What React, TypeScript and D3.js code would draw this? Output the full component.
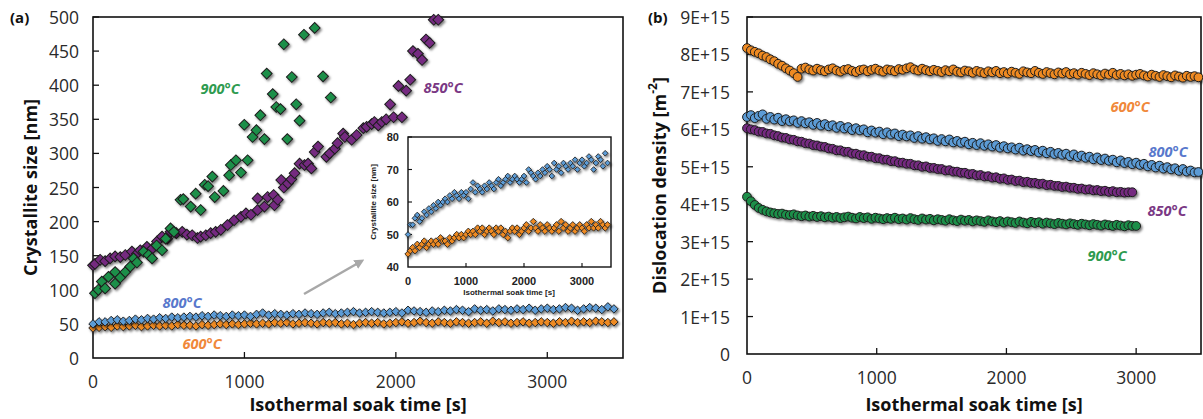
import React from 'react';
import * as d3 from 'd3';

// ---------- Panel (a): crystallite size [nm] ----------
const A_X_TICKS = [0, 1000, 2000, 3000];
const A_Y_TICKS = [0, 50, 100, 150, 200, 250, 300, 350, 400, 450, 500];

const T900_A = [13, 35, 58, 80, 102, 146, 146, 180, 213, 246, 268, 290, 334, 367, 390, 420, 456, 480, 512, 534, 578, 596, 645, 678, 711, 738, 760, 788, 804, 861, 899, 910, 944, 977, 999, 1021, 1054, 1079, 1105, 1132, 1147, 1187, 1210, 1238, 1260, 1283, 1313, 1342, 1364, 1393, 1464, 1519, 1570];
const V900_A = [95, 100, 112, 102, 119, 109, 126, 118, 126, 134, 146, 140, 156, 151, 146, 165, 158, 175, 190, 185, 232, 233, 222, 241, 217, 254, 252, 266, 236, 245, 268, 283, 290, 272, 342, 290, 324, 334, 356, 321, 417, 387, 368, 365, 460, 321, 412, 372, 348, 474, 484, 413, 382];

const T850_A = [0, 13, 47, 80, 113, 146, 180, 213, 257, 290, 312, 356, 390, 423, 456, 490, 512, 550, 589, 620, 655, 690, 711, 745, 777, 810, 844, 888, 932, 977, 1010, 1043, 1087, 1087, 1132, 1153, 1193, 1198, 1220, 1243, 1260, 1287, 1310, 1331, 1364, 1397, 1420, 1442, 1464, 1486, 1541, 1563, 1597, 1615, 1652, 1663, 1708, 1741, 1785, 1807, 1840, 1858, 1884, 1907, 1936, 1962, 1985, 2017, 2040, 2068, 2095, 2113, 2146, 2173, 2199, 2223, 2250, 2280];
const V850_A = [136, 138, 144, 142, 146, 149, 148, 151, 156, 153, 158, 163, 160, 171, 178, 175, 185, 183, 185, 181, 180, 176, 178, 180, 183, 185, 188, 195, 202, 207, 212, 210, 217, 234, 222, 236, 239, 224, 232, 261, 250, 256, 262, 271, 285, 283, 285, 278, 302, 310, 295, 300, 307, 315, 329, 324, 320, 327, 337, 339, 343, 346, 341, 346, 350, 372, 353, 399, 353, 392, 408, 450, 446, 437, 467, 462, 496, 496];

const A_STEP = 40; // s between 600/800 °C measurements
const V800_A = [50, 53, 53, 55, 56, 54, 55, 57, 56, 58, 57, 59, 58, 60, 59, 60, 61, 60, 62, 61, 63, 62, 61, 63, 62, 63, 61, 64, 66, 63, 65, 64, 63, 65, 64, 66, 65, 64, 66, 67, 65, 66, 67, 68, 66, 67, 68, 67, 66, 67, 68, 66, 70, 69, 68, 67, 69, 68, 70, 69, 71, 70, 68, 72, 70, 71, 69, 72, 71, 70, 72, 71, 73, 70, 72, 73, 71, 72, 74, 73, 70, 72, 74, 73, 71, 75, 72];
const V600_A = [44, 45, 46, 45, 47, 46, 47, 48, 46, 47, 48, 47, 48, 47, 49, 48, 48, 47, 49, 48, 49, 50, 49, 50, 49, 50, 51, 50, 51, 50, 52, 51, 52, 50, 51, 52, 51, 50, 52, 51, 52, 50, 51, 49, 51, 52, 51, 52, 50, 51, 52, 53, 51, 52, 54, 52, 51, 53, 52, 51, 53, 52, 51, 52, 53, 51, 54, 52, 53, 51, 52, 53, 51, 52, 53, 52, 51, 53, 52, 54, 52, 53, 52, 54, 53, 52, 53];

const INSET_X_TICKS = [0, 1000, 2000, 3000];
const INSET_Y_TICKS = [40, 50, 60, 70, 80];

// ---------- Panel (b): dislocation density [x1E+15 m^-2] ----------
const B_STEP = 30;
const B_X_TICKS = [0, 1000, 2000, 3000];
const B_Y_TICKS = [0, 1, 2, 3, 4, 5, 6, 7, 8, 9];
const B_Y_LABELS = ['0', '1E+15', '2E+15', '3E+15', '4E+15', '5E+15', '6E+15', '7E+15', '8E+15', '9E+15'];

const D600 = [8.17, 8.11, 8.07, 8.03, 7.97, 7.93, 7.87, 7.82, 7.75, 7.70, 7.63, 7.57, 7.50, 7.40,
  7.62, 7.65, 7.60, 7.57, 7.62, 7.58, 7.55, 7.60, 7.63, 7.57, 7.54, 7.59, 7.61, 7.56, 7.53, 7.58, 7.60, 7.55, 7.59, 7.62, 7.57, 7.54, 7.60, 7.58, 7.55, 7.61, 7.59,
  7.63, 7.66, 7.60, 7.57, 7.62, 7.58, 7.55, 7.59, 7.56, 7.53, 7.58, 7.55, 7.60, 7.54, 7.52, 7.57, 7.55, 7.51, 7.56, 7.53,
  7.50, 7.55, 7.52, 7.56, 7.50, 7.53, 7.49, 7.54, 7.51, 7.48, 7.55, 7.52, 7.50, 7.56, 7.51, 7.48, 7.53, 7.50, 7.47, 7.52,
  7.49, 7.53, 7.47, 7.50, 7.46, 7.51, 7.48, 7.45, 7.50, 7.47, 7.44, 7.49, 7.46, 7.51, 7.45, 7.48, 7.44, 7.47, 7.43, 7.46,
  7.48, 7.44, 7.41, 7.46, 7.43, 7.40, 7.45, 7.42, 7.39, 7.44, 7.41, 7.38, 7.43, 7.40, 7.42, 7.39];
const D800 = [6.33, 6.38, 6.30, 6.36, 6.40, 6.28, 6.33, 6.26, 6.31, 6.22, 6.27, 6.21, 6.24, 6.17, 6.22, 6.16, 6.19, 6.12, 6.17, 6.10,
  6.14, 6.08, 6.11, 6.04, 6.09, 6.02, 6.06, 5.98, 6.03, 5.97, 6.00, 5.92, 5.97, 5.91, 5.94, 5.87, 5.92, 5.86, 5.89, 5.82,
  5.86, 5.81, 5.84, 5.77, 5.82, 5.75, 5.79, 5.73, 5.76, 5.69, 5.74, 5.68, 5.73, 5.65, 5.69, 5.64, 5.67, 5.60, 5.64, 5.58,
  5.63, 5.56, 5.60, 5.54, 5.58, 5.51, 5.55, 5.49, 5.52, 5.46, 5.51, 5.43, 5.47, 5.42, 5.45, 5.38, 5.43, 5.36, 5.40, 5.34,
  5.37, 5.32, 5.35, 5.28, 5.33, 5.26, 5.30, 5.24, 5.27, 5.20, 5.25, 5.18, 5.22, 5.16, 5.19, 5.12, 5.17, 5.10, 5.13, 5.07,
  5.11, 5.05, 5.08, 5.01, 5.05, 4.98, 5.03, 4.95, 4.99, 4.93, 4.96, 4.89, 4.94, 4.87, 4.90, 4.85, 4.86];
const D850 = [6.03, 6.00, 5.98, 5.94, 5.93, 5.89, 5.88, 5.84, 5.82, 5.78, 5.77, 5.73, 5.72, 5.68, 5.67, 5.63, 5.62, 5.58, 5.57, 5.54,
  5.53, 5.49, 5.48, 5.44, 5.44, 5.40, 5.40, 5.35, 5.35, 5.31, 5.31, 5.27, 5.27, 5.23, 5.23, 5.19, 5.19, 5.15, 5.15, 5.11,
  5.11, 5.08, 5.08, 5.04, 5.04, 5.00, 5.01, 4.97, 4.97, 4.94, 4.94, 4.90, 4.91, 4.87, 4.87, 4.84, 4.84, 4.80, 4.81, 4.77,
  4.78, 4.74, 4.75, 4.71, 4.72, 4.68, 4.69, 4.65, 4.66, 4.62, 4.63, 4.59, 4.60, 4.57, 4.57, 4.54, 4.55, 4.51, 4.52, 4.49,
  4.49, 4.46, 4.47, 4.44, 4.44, 4.41, 4.42, 4.39, 4.40, 4.37, 4.38, 4.35, 4.36, 4.33, 4.35, 4.32, 4.33, 4.31, 4.32, 4.32];
const D900 = [4.20, 4.08, 3.98, 3.90, 3.85, 3.81, 3.78, 3.76, 3.74, 3.75, 3.72, 3.71, 3.73, 3.70, 3.68, 3.70, 3.67, 3.69, 3.66, 3.68,
  3.65, 3.67, 3.64, 3.66, 3.63, 3.65, 3.67, 3.64, 3.62, 3.66, 3.63, 3.65, 3.61, 3.64, 3.62, 3.60, 3.63, 3.61, 3.64, 3.60,
  3.62, 3.59, 3.63, 3.60, 3.58, 3.62, 3.59, 3.61, 3.57, 3.60, 3.58, 3.56, 3.60, 3.57, 3.55, 3.59, 3.56, 3.58, 3.54, 3.57,
  3.55, 3.53, 3.57, 3.54, 3.52, 3.55, 3.51, 3.54, 3.52, 3.50, 3.54, 3.51, 3.49, 3.53, 3.50, 3.52, 3.48, 3.51, 3.49, 3.47,
  3.50, 3.48, 3.46, 3.49, 3.47, 3.45, 3.48, 3.46, 3.44, 3.47, 3.45, 3.43, 3.46, 3.44, 3.42, 3.45, 3.43, 3.41, 3.44, 3.42, 3.42];

const C = {
  green: '#1f8f4a', purple: '#742c80', blue: '#5b9bd5', orange: '#ee8a24',
  tGreen: '#2e9b50', tPurple: '#7a3884', tBlue: '#5878cc', tOrange: '#f0883a',
  edge: '#1c1c1c',
};
const FONT = "'Open Sans', 'DejaVu Sans', sans-serif";
const INSET_FONT = "'Liberation Sans', Arial, sans-serif";

type Pt = { t: number; v: number };
const zip = (ts: number[], vs: number[]): Pt[] => vs.map((v, i) => ({ t: ts[i], v }));
const grid = (vs: number[], step: number): Pt[] => vs.map((v, i) => ({ t: i * step, v }));

const diamond = (area: number) => d3.symbol().type(d3.symbolSquare).size(area)() as string;

function Diamonds({ data, x, y, fill, area, sw = 1 }: any) {
  const p = diamond(area);
  return (
    <g filter="url(#shadow)">
      {data.map((d: Pt, i: number) => (
        <path key={i} d={p} transform={`translate(${x(d.t)},${y(d.v)}) rotate(45)`} fill={fill} stroke={C.edge} strokeWidth={sw} />
      ))}
    </g>
  );
}

function Circles({ data, x, y, fill, r }: any) {
  return (
    <g filter="url(#shadow)">
      {data.map((d: Pt, i: number) => (
        <circle key={i} cx={x(d.t)} cy={y(d.v)} r={r} fill={fill} stroke={C.edge} strokeWidth={1} />
      ))}
    </g>
  );
}

function Frame({ x, y, xTicks, yTicks, tickLen, sw }: any) {
  const [x0, x1] = x.range();
  const [y0, y1] = y.range();
  return (
    <g>
      <rect x={x0} y={y1} width={x1 - x0} height={y0 - y1} fill="none" stroke="#111" strokeWidth={sw} />
      {xTicks.filter((t: number) => t > 0).map((t: number) => (
        <line key={'x' + t} x1={x(t)} x2={x(t)} y1={y0} y2={y0 - tickLen} stroke="#111" strokeWidth={sw * 0.8} />
      ))}
      {yTicks.filter((t: number) => t > y.domain()[0]).map((t: number) => (
        <line key={'y' + t} x1={x0} x2={x0 + tickLen} y1={y(t)} y2={y(t)} stroke="#111" strokeWidth={sw * 0.8} />
      ))}
    </g>
  );
}

export default function App() {
  // panel (a)
  const ax = d3.scaleLinear().domain([0, 3500]).range([93, 623]);
  const ay = d3.scaleLinear().domain([0, 500]).range([358, 17]);
  // inset
  const ix = d3.scaleLinear().domain([0, 3500]).range([408, 611]);
  const iy = d3.scaleLinear().domain([40, 80]).range([267, 137]);
  // panel (b)
  const bx = d3.scaleLinear().domain([0, 3500]).range([747, 1201]);
  const by = d3.scaleLinear().domain([0, 9]).range([354, 17]);

  const s900 = zip(T900_A, V900_A);
  const s850 = zip(T850_A, V850_A);
  const s800 = grid(V800_A, A_STEP);
  const s600 = grid(V600_A, A_STEP);

  const tick = { fontFamily: FONT, fontSize: 17.5, fill: '#2a2a2a' };
  const title = { fontFamily: FONT, fontSize: 18, fontWeight: 700, fill: '#111' };
  const temp = { fontFamily: FONT, fontSize: 14.5, fontWeight: 700, fontStyle: 'italic' as const };
  const inTick = { fontFamily: INSET_FONT, fontSize: 11, fontWeight: 700, fill: '#222' };

  return (
    <svg width={1203} height={419} style={{ position: 'absolute', left: 0, top: 0, background: '#fff' }}>
      <defs>
        <filter id="shadow" x="-10%" y="-10%" width="130%" height="130%">
          <feDropShadow dx="1.5" dy="1.8" stdDeviation="1.3" floodColor="#000" floodOpacity="0.5" />
        </filter>
        <marker id="arrow" viewBox="0 0 10 10" refX="5" refY="5" markerWidth="4" markerHeight="4" orient="auto">
          <path d="M0,0L10,5L0,10Z" fill="#a8a8a8" />
        </marker>
      </defs>
      <rect width={1203} height={419} fill="#fff" />

      {/* ===== Panel (a) ===== */}
      <Frame x={ax} y={ay} xTicks={A_X_TICKS} yTicks={A_Y_TICKS} tickLen={6} sw={1.6} />
      {A_Y_TICKS.map((t) => (
        <text key={t} x={79} y={ay(t)} textAnchor="end" dominantBaseline="central" {...tick}>{t}</text>
      ))}
      {A_X_TICKS.map((t) => (
        <text key={t} x={ax(t)} y={388} textAnchor="middle" {...tick}>{t}</text>
      ))}
      <text x={(93 + 623) / 2} y={411} textAnchor="middle" {...title}>Isothermal soak time [s]</text>
      <text transform={`translate(30,${(17 + 358) / 2}) rotate(-90)`} textAnchor="middle" dominantBaseline="central" {...title}>Crystallite size [nm]</text>
      <text x={10} y={23} fontFamily={FONT} fontSize={15} fontWeight={700} fill="#111">(a)</text>

      <Diamonds data={s600} x={ax} y={ay} fill={C.orange} area={36} sw={0.9} />
      <Diamonds data={s800} x={ax} y={ay} fill={C.blue} area={36} sw={0.9} />
      <Diamonds data={s850} x={ax} y={ay} fill={C.purple} area={58} />
      <Diamonds data={s900} x={ax} y={ay} fill={C.green} area={58} />

      <text x={220} y={88} textAnchor="middle" dominantBaseline="central" fill={C.tGreen} {...temp}>900°C</text>
      <text x={443} y={87} textAnchor="middle" dominantBaseline="central" fill={C.tPurple} {...temp}>850°C</text>
      <text x={182} y={302} textAnchor="middle" dominantBaseline="central" fill={C.tBlue} {...temp}>800°C</text>
      <text x={202} y={343} textAnchor="middle" dominantBaseline="central" fill={C.tOrange} {...temp}>600°C</text>

      {/* arrow to inset */}
      <line x1={304} y1={294} x2={360} y2={262} stroke="#a8a8a8" strokeWidth={2.5} markerEnd="url(#arrow)" />

      {/* inset */}
      <rect x={408} y={137} width={203} height={130} fill="#fff" />
      <Frame x={ix} y={iy} xTicks={INSET_X_TICKS} yTicks={INSET_Y_TICKS} tickLen={4} sw={1.4} />
      <Diamonds data={s600} x={ix} y={iy} fill={C.orange} area={20} sw={0.8} />
      <Diamonds data={s800} x={ix} y={iy} fill={C.blue} area={16} sw={0.8} />
      {INSET_Y_TICKS.map((t) => (
        <text key={t} x={399} y={iy(t)} textAnchor="end" dominantBaseline="central" {...inTick}>{t}</text>
      ))}
      {INSET_X_TICKS.map((t) => (
        <text key={t} x={ix(t)} y={285} textAnchor="middle" {...inTick}>{t}</text>
      ))}
      <text x={509} y={295} textAnchor="middle" fontFamily={INSET_FONT} fontSize={8} fontWeight={700} fill="#222">Isothermal soak time [s]</text>
      <text transform={`translate(373,202) rotate(-90)`} textAnchor="middle" dominantBaseline="central" fontFamily={INSET_FONT} fontSize={8} fontWeight={700} fill="#222">Crystallite size [nm]</text>

      {/* ===== Panel (b) ===== */}
      <Frame x={bx} y={by} xTicks={B_X_TICKS} yTicks={B_Y_TICKS} tickLen={6} sw={1.6} />
      {B_Y_TICKS.map((t, i) => (
        <text key={t} x={730} y={by(t)} textAnchor="end" dominantBaseline="central" {...tick}>{B_Y_LABELS[i]}</text>
      ))}
      {B_X_TICKS.map((t) => (
        <text key={t} x={bx(t)} y={384} textAnchor="middle" {...tick}>{t}</text>
      ))}
      <text x={(747 + 1201) / 2} y={411} textAnchor="middle" {...title}>Isothermal soak time [s]</text>
      <text transform={`translate(659,${(17 + 354) / 2}) rotate(-90)`} textAnchor="middle" dominantBaseline="central" {...title}>
        Dislocation density [m<tspan dy={-7} fontSize={12}>-2</tspan><tspan dy={7}>]</tspan>
      </text>
      <text x={648} y={23} fontFamily={FONT} fontSize={15} fontWeight={700} fill="#111">(b)</text>

      <Circles data={grid(D600, B_STEP)} x={bx} y={by} fill={C.orange} r={4.4} />
      <Circles data={grid(D800, B_STEP)} x={bx} y={by} fill={C.blue} r={4.4} />
      <Circles data={grid(D850, B_STEP)} x={bx} y={by} fill={C.purple} r={4.4} />
      <Circles data={grid(D900, B_STEP)} x={bx} y={by} fill={C.green} r={4.4} />

      <text x={1130} y={106} textAnchor="middle" dominantBaseline="central" fill={C.tOrange} {...temp}>600°C</text>
      <text x={1168} y={151} textAnchor="middle" dominantBaseline="central" fill={C.tBlue} {...temp}>800°C</text>
      <text x={1167} y={210} textAnchor="middle" dominantBaseline="central" fill={C.tPurple} {...temp}>850°C</text>
      <text x={1107} y={255} textAnchor="middle" dominantBaseline="central" fill={C.tGreen} {...temp}>900°C</text>
    </svg>
  );
}
